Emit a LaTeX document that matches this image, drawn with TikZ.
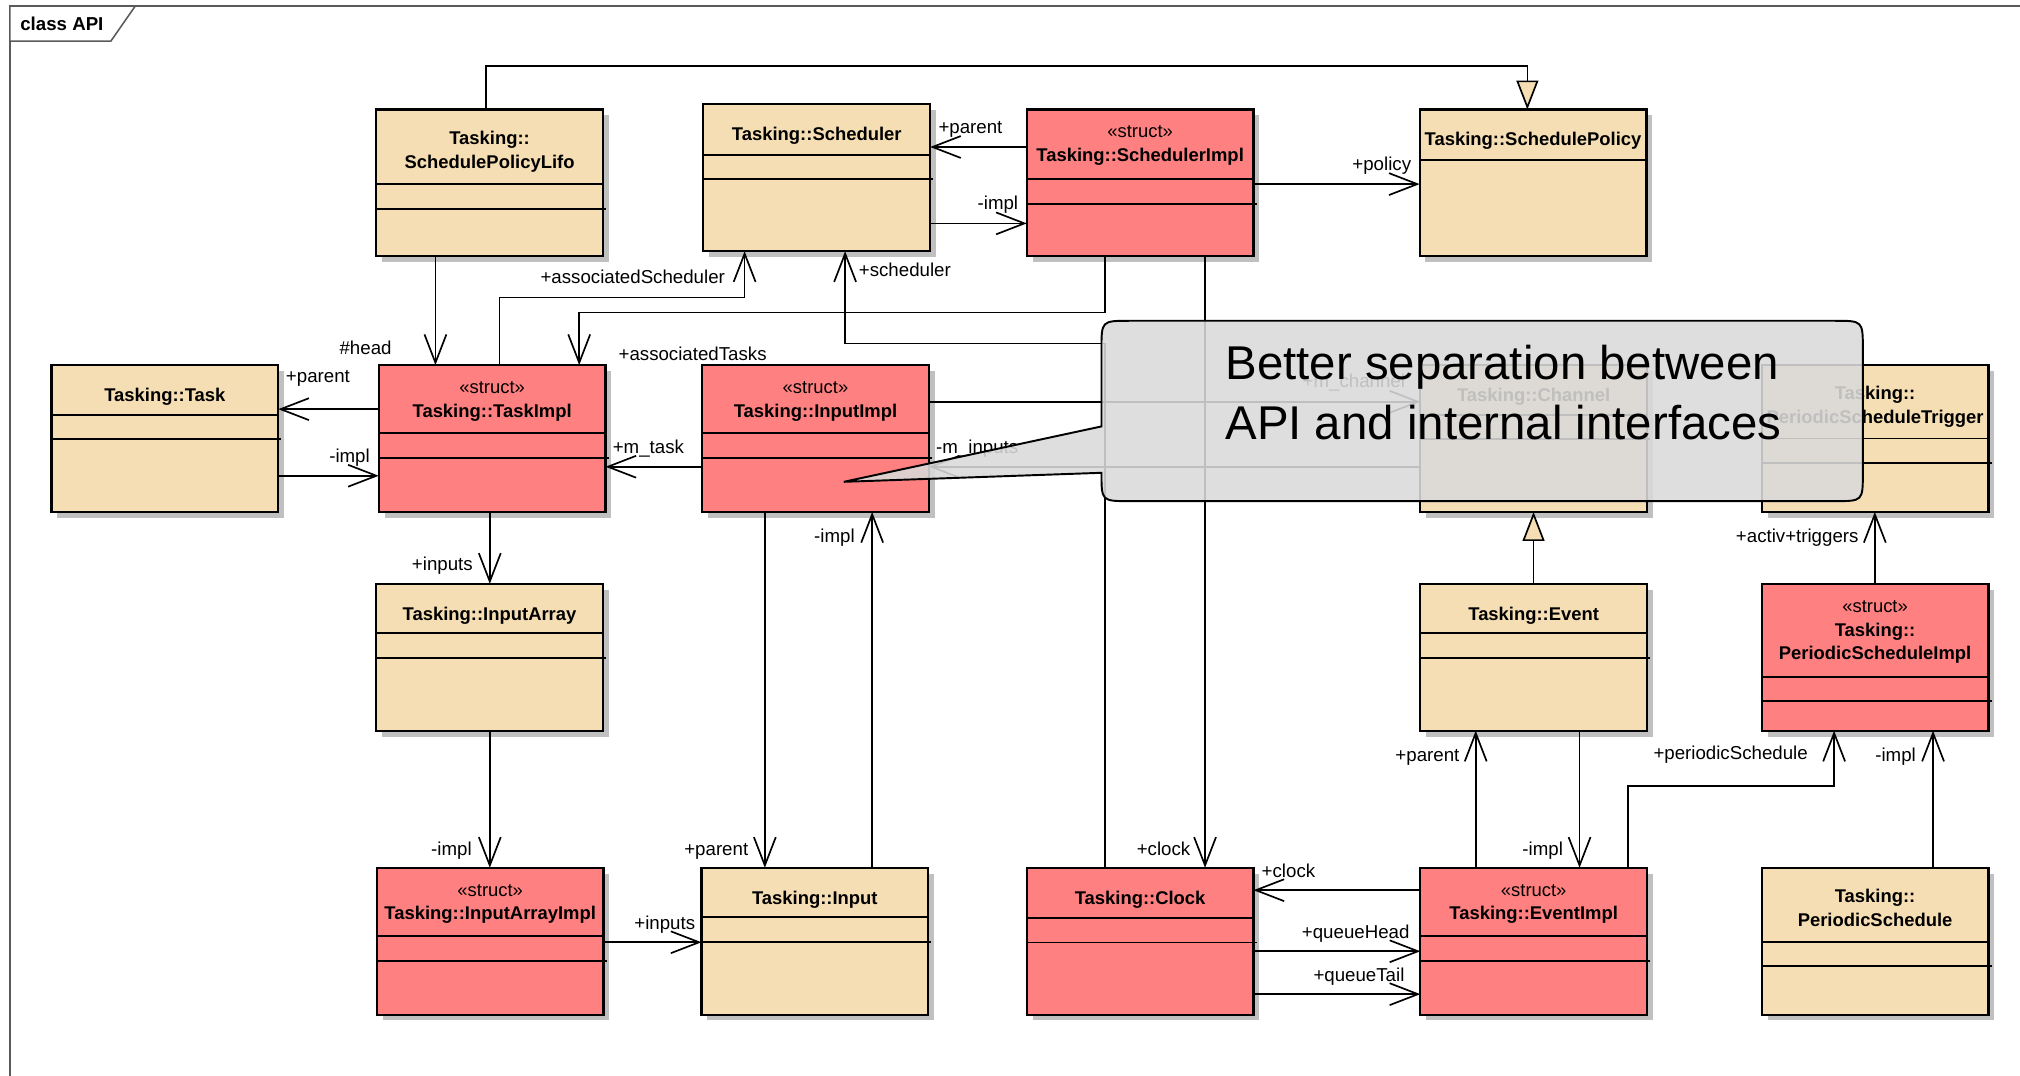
\documentclass[tikz,border=0pt]{standalone}
\usepackage{fontspec}
\setmainfont{Liberation Sans}
\usetikzlibrary{arrows.meta,shadows}

\definecolor{wheat}{RGB}{245,222,179}
\definecolor{structred}{RGB}{255,128,128}
\definecolor{shadowgray}{RGB}{192,192,192}
\definecolor{notegray}{RGB}{218,218,218}
\definecolor{framegray}{RGB}{90,90,90}

\tikzset{
  classbox/.style={draw=black, line width=1.7pt, minimum width=176pt, minimum height=114pt,
    anchor=north west, inner sep=0pt, outer sep=0pt,
    drop shadow={shadow xshift=4.5pt, shadow yshift=-4.5pt, fill=shadowgray, opacity=1}},
  classname/.style={font=\bfseries\fontsize{14.3}{18.4}\selectfont, align=center, anchor=north,
    inner sep=0pt, execute at begin node={\rule{0pt}{12pt}}},
  compline/.style={line width=1.5pt},
  assoc/.style={line width=1.3pt, -{Straight Barb[length=22pt,width=17pt]}},
  generalize/.style={line width=1.3pt, -{Triangle[length=22.5pt,width=17pt,fill=wheat]}},
  role/.style={font=\fontsize{14.5}{17}\selectfont, inner sep=0pt, anchor=base west},
}

% class box: name, x, y (top left), fill, name compartment height, text drop, title
\newcommand{\umlclass}[7]{%
  \node[classbox, fill=#4] (#1) at (#2,#3) {};
  \node[classname] (#1-name) at ([yshift=-#6pt]#1.north) {#7};
  \draw[compline] ([yshift=-#5pt]#1.north west) -- ([yshift=-#5pt]#1.north east);
  \draw[compline] ([yshift=-#5pt-19pt]#1.north west) -- ([yshift=-#5pt-19pt,xshift=2.5pt]#1.north east);
}
% class box with a single compartment line
\newcommand{\umlclassplain}[7]{%
  \node[classbox, fill=#4] (#1) at (#2,#3) {};
  \node[classname] (#1-name) at ([yshift=-#6pt]#1.north) {#7};
  \draw[compline] ([yshift=-#5pt]#1.north west) -- ([yshift=-#5pt]#1.north east);
}

\begin{document}
\begin{tikzpicture}[x=1pt,y=-1pt]
\useasboundingbox (0,0) rectangle (1568,835);
\fill[white] (0,0) rectangle (1568,835);

% diagram frame and its tab
\draw[framegray, line width=1.2pt] (7.6,845) -- (7.6,4.7) -- (1580,4.7);
\draw[framegray, line width=1.2pt, fill=white] (7.6,4.7) -- (105,4.7) -- (86,32) -- (7.6,32) -- cycle;
\node[font=\bfseries\fontsize{14.5}{17}\selectfont, anchor=base west, inner sep=0pt] (frametitle) at (15.6,23.6) {class API};

% classes
\umlclass{lifo}{292}{85}{wheat}{58}{16.5}{Tasking::\\SchedulePolicyLifo}
\umlclass{sched}{546}{81}{wheat}{39}{16}{Tasking::Scheduler}
\umlclass{schedimpl}{797}{85}{structred}{54}{12.5}{{\mdseries «struct»}\\Tasking::SchedulerImpl}
\umlclassplain{policy}{1102}{85}{wheat}{39.5}{16}{Tasking::SchedulePolicy}

\umlclass{task}{40}{283.4}{wheat}{38.5}{16}{Tasking::Task}
\umlclass{taskimpl}{294}{283.4}{structred}{53}{12.5}{{\mdseries «struct»}\\Tasking::TaskImpl}
\umlclass{inputimpl}{545}{283.4}{structred}{53}{12.5}{{\mdseries «struct»}\\Tasking::InputImpl}
\umlclass{channel}{1102.5}{283.4}{wheat}{38.5}{16}{Tasking::Channel}
\umlclass{trigger}{1367.5}{283.4}{wheat}{57}{16.5}{Tasking::\\PeriodicScheduleTrigger}

\umlclass{inputarray}{292}{453.2}{wheat}{38.5}{16}{Tasking::InputArray}
\umlclass{event}{1102.5}{453.2}{wheat}{38.5}{16}{Tasking::Event}
\umlclass{psimpl}{1367.5}{453.2}{structred}{72}{12.8}{{\mdseries «struct»}\\Tasking::\\PeriodicScheduleImpl}

\umlclass{arrayimpl}{292.5}{673.6}{structred}{53}{12.5}{{\mdseries «struct»}\\Tasking::InputArrayImpl}
\umlclass{input}{544.5}{673.6}{wheat}{38.5}{16}{Tasking::Input}
\umlclass{clock}{797}{673.6}{structred}{39}{16}{Tasking::Clock}
\umlclass{eventimpl}{1102.5}{673.6}{structred}{53}{12.5}{{\mdseries «struct»}\\Tasking::EventImpl}
\umlclass{psched}{1367.5}{673.6}{wheat}{57.5}{16.5}{Tasking::\\PeriodicSchedule}

% routing points of the connectors
\coordinate (genL) at (377,51);
\coordinate (genR) at (1185.6,51);
\coordinate (headX) at (338,0);
\coordinate (ascA) at (387.6,231);
\coordinate (ascB) at (578,231);
\coordinate (atA) at (857.5,242.5);
\coordinate (atB) at (449.6,242.5);
\coordinate (schA) at (857.5,266.6);
\coordinate (schB) at (656,266.6);
\coordinate (clkX) at (935.4,0);
\coordinate (parY) at (0,114.1);
\coordinate (implY) at (0,173.4);
\coordinate (polY) at (0,142.9);
\coordinate (tparY) at (0,317.6);
\coordinate (timplY) at (0,369.3);
\coordinate (mtaskY) at (0,362.3);
\coordinate (mchanY) at (0,311.9);
\coordinate (inpX) at (380.2,0);
\coordinate (iparX) at (593.7,0);
\coordinate (iimplX) at (677,0);
\coordinate (ainpY) at (0,731.4);
\coordinate (eclkY) at (0,691);
\coordinate (qhY) at (0,738.4);
\coordinate (qtY) at (0,771.7);
\coordinate (egX) at (1190.4,0);
\coordinate (eparX) at (1145.5,0);
\coordinate (eimplX) at (1226.1,0);
\coordinate (psA) at (1263.7,610.2);
\coordinate (psB) at (1423.7,610.2);
\coordinate (psiX) at (1500.5,0);
\coordinate (trigX) at (1455.3,0);

% generalisations
\draw[generalize] (lifo.north -| genL) -- (genL) -- (genR) -- (policy.north -| genR);
\draw[generalize] (event.north -| egX) -- (channel.south -| egX);

% associations
\draw[assoc] (schedimpl.west |- parY) -- (sched.east |- parY);
\draw[assoc] (sched.east |- implY) -- (schedimpl.west |- implY);
\draw[assoc] (schedimpl.east |- polY) -- (policy.west |- polY);
\draw[assoc] (lifo.south -| headX) -- (taskimpl.north -| headX);
\draw[assoc] (taskimpl.north -| ascA) -- (ascA) -- (ascB) -- (sched.south -| ascB);
\draw[assoc] (schedimpl.south -| atA) -- (atA) -- (atB) -- (taskimpl.north -| atB);
\draw[assoc] (clock.north -| schA) -- (schA) -- (schB) -- (sched.south -| schB);
\draw[assoc] (schedimpl.south -| clkX) -- (clock.north -| clkX);
\draw[assoc] (taskimpl.west |- tparY) -- (task.east |- tparY);
\draw[assoc] (task.east |- timplY) -- (taskimpl.west |- timplY);
\draw[assoc] (inputimpl.west |- mtaskY) -- (taskimpl.east |- mtaskY);
\draw[assoc] (inputimpl.east |- mchanY) -- (channel.west |- mchanY);
\draw[assoc] (channel.west |- mtaskY) -- (inputimpl.east |- mtaskY);
\draw[assoc] (taskimpl.south -| inpX) -- (inputarray.north -| inpX);
\draw[assoc] (inputarray.south -| inpX) -- (arrayimpl.north -| inpX);
\draw[assoc] (inputimpl.south -| iparX) -- (input.north -| iparX);
\draw[assoc] (input.north -| iimplX) -- (inputimpl.south -| iimplX);
\draw[assoc] (arrayimpl.east |- ainpY) -- (input.west |- ainpY);
\draw[assoc] (eventimpl.west |- eclkY) -- (clock.east |- eclkY);
\draw[assoc] (clock.east |- qhY) -- (eventimpl.west |- qhY);
\draw[assoc] (clock.east |- qtY) -- (eventimpl.west |- qtY);
\draw[assoc] (eventimpl.north -| eparX) -- (event.south -| eparX);
\draw[assoc] (event.south -| eimplX) -- (eventimpl.north -| eimplX);
\draw[assoc] (eventimpl.north -| psA) -- (psA) -- (psB) -- (psimpl.south -| psB);
\draw[assoc] (psched.north -| psiX) -- (psimpl.south -| psiX);
\draw[assoc] (psimpl.north -| trigX) -- (trigger.south -| trigX);

% role names
\node[role] (r1) at (728.3,103.6) {+parent};
\node[role] (r2) at (758.7,162.3) {-impl};
\node[role] (r3) at (1049.6,132.6) {+policy};
\node[role] (r4) at (263.4,275.4) {\#head};
\node[role] (r5) at (419.4,219.8) {+associatedScheduler};
\node[role] (r6) at (480,280.1) {+associatedTasks};
\node[role] (r7) at (666.5,214.6) {+scheduler};
\node[role] (r8) at (882.2,664.4) {+clock};
\node[role] (r9) at (475.5,352.3) {+m\_task};
\node[role] (r10) at (726.5,351.8) {-m\_inputs};
\node[role] (r11) at (1011,301) {+m\_channel};
\node[role] (r12) at (221.8,296.9) {+parent};
\node[role] (r13) at (255.4,359) {-impl};
\node[role] (r14) at (319.6,443) {+inputs};
\node[role] (r15) at (334.5,664) {-impl};
\node[role] (r16) at (531,664) {+parent};
\node[role] (r17) at (631.8,421.2) {-impl};
\node[role] (r18) at (492.2,721.4) {+inputs};
\node[role] (r19) at (979.2,681.5) {+clock};
\node[role] (r20) at (1010.4,728.4) {+queueHead};
\node[role] (r21) at (1019.4,762.2) {+queueTail};
\node[role] (r22) at (1083,591.2) {+parent};
\node[role] (r23) at (1181.6,664.4) {-impl};
\node[role] (r24) at (1283.3,589.9) {+periodicSchedule};
\node[role] (r25) at (1455.5,591.2) {-impl};
\node[role] (r26) at (1347.3,421.2) {+activ+triggers};

% note callout
\path[draw=black, line width=1.5pt, fill=notegray, fill opacity=0.88]
  (855,331) -- (855,271) .. controls (855,249) .. (877,249)
  -- (1424,249) .. controls (1446,249) .. (1446,271)
  -- (1446,367) .. controls (1446,389) .. (1424,389)
  -- (877,389) .. controls (855,389) .. (855,367)
  -- (655,374) -- cycle;
\node[font=\fontsize{36.8}{46.5}\selectfont, align=left, anchor=north west, inner sep=0pt,
  execute at begin node={\rule{0pt}{30pt}}] (note) at (951,268)
  {Better separation between\\API and internal interfaces};
\end{tikzpicture}
\end{document}
